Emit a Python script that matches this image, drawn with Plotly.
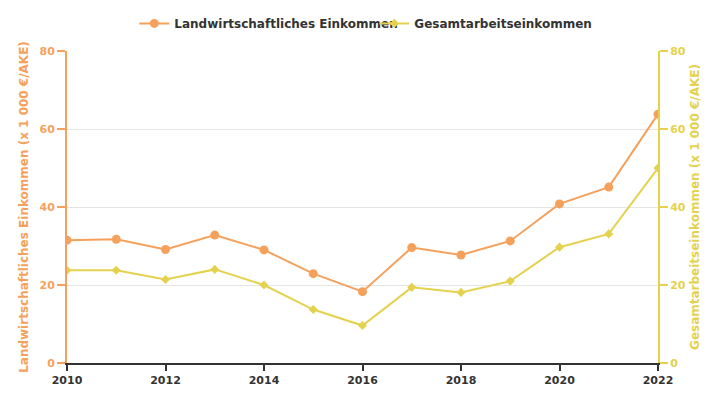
import plotly.graph_objects as go

years = [2010, 2011, 2012, 2013, 2014, 2015, 2016, 2017, 2018, 2019, 2020, 2021, 2022]
landwirtschaft = [31.5, 31.7, 29.1, 32.8, 29.0, 22.9, 18.3, 29.6, 27.7, 31.3, 40.8, 45.1, 63.8]
gesamtarbeit = [23.8, 23.8, 21.4, 24.0, 20.0, 13.7, 9.6, 19.4, 18.1, 21.0, 29.7, 33.1, 50.0]
y_ticks = [0, 20, 40, 60, 80]
x_ticks = [2010, 2012, 2014, 2016, 2018, 2020, 2022]

ORANGE = "#F6A15B"
YELLOW = "#E4D24F"
FONT = "DejaVu Sans"

fig = go.Figure()
fig.add_trace(go.Scatter(
    x=years, y=landwirtschaft, name="Landwirtschaftliches Einkommen",
    mode="lines+markers", line=dict(color=ORANGE, width=2),
    marker=dict(symbol="circle", size=9, color=ORANGE), yaxis="y"))
fig.add_trace(go.Scatter(
    x=years, y=gesamtarbeit, name="Gesamtarbeitseinkommen",
    mode="lines+markers", line=dict(color=YELLOW, width=2),
    marker=dict(symbol="diamond", size=7, color=YELLOW), yaxis="y2"))

fig.update_layout(
    width=717, height=392,
    margin=dict(l=59, r=67, t=43, b=37, autoexpand=False),
    paper_bgcolor="white", plot_bgcolor="white",
    font=dict(family=FONT, size=12, color="#333333"),
    legend=dict(orientation="h", x=0.52, xanchor="center", y=1.042, yanchor="bottom",
                font=dict(family=FONT, size=12, color="#333333", weight="bold"),
                itemwidth=30, entrywidth=195, entrywidthmode="pixels",
                tracegroupgap=0, bgcolor="rgba(0,0,0,0)"),
    xaxis=dict(range=[2010, 2022], tickvals=x_ticks, ticktext=[str(v) for v in x_ticks],
               showgrid=False, zeroline=False, showline=True, linecolor="#333333", linewidth=2,
               ticks="outside", ticklen=6, tickcolor="#333333", tickwidth=1.5,
               tickfont=dict(family=FONT, size=11, color="#333333", weight="bold")),
    yaxis=dict(range=[0, 80], tickvals=y_ticks, showgrid=True, gridcolor="#E5E5E5",
               zeroline=False, showline=True, linecolor=ORANGE, linewidth=2,
               ticks="outside", ticklen=8, tickcolor=ORANGE, tickwidth=2,
               tickfont=dict(family=FONT, size=11, color=ORANGE, weight="bold"),
               title=dict(text="Landwirtschaftliches Einkommen (x 1 000 €/AKE)",
                          font=dict(family=FONT, size=12, color=ORANGE, weight="bold"),
                          standoff=8)),
    yaxis2=dict(range=[0, 80], tickvals=y_ticks, overlaying="y", side="right",
                showgrid=False, zeroline=False, showline=True, linecolor=YELLOW, linewidth=2,
                ticks="outside", ticklen=8, tickcolor=YELLOW, tickwidth=2,
                tickfont=dict(family=FONT, size=11, color=YELLOW, weight="bold"),
                title=dict(text="Gesamtarbeitseinkommen (x 1 000 €/AKE)",
                           font=dict(family=FONT, size=12, color=YELLOW, weight="bold"),
                           standoff=6)),
)

fig.write_html("out.html")
